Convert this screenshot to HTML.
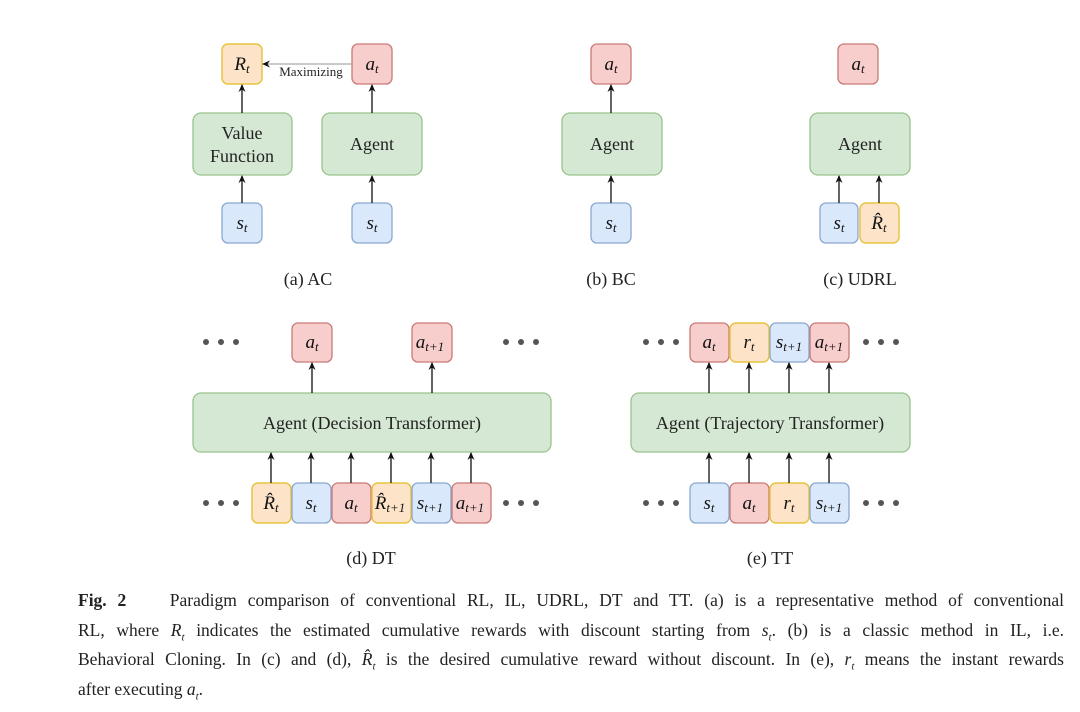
<!DOCTYPE html>
<html><head><meta charset="utf-8">
<style>
html,body{margin:0;padding:0;background:#fff;}
body{width:1080px;height:703px;position:relative;overflow:hidden;font-family:"Liberation Serif",serif;}
svg{position:absolute;left:0;top:0;}
.cap{position:absolute;left:78px;width:986px;font-size:17.5px;color:#222;line-height:29.5px;top:586px;}
.cap div{text-align:justify;text-align-last:justify;white-space:nowrap;height:29.5px;}
.cap div.last{text-align-last:left;}
i{font-style:italic;}
</style></head><body>
<svg width="1080" height="703" viewBox="0 0 1080 703" font-family="Liberation Serif, serif">
<defs>
<marker id="ah" markerWidth="8" markerHeight="8" refX="7" refY="4" orient="auto" markerUnits="userSpaceOnUse">
<path d="M0,0.5 L8,4 L0,7.5 L2.5,4 Z" fill="#111"/></marker>
<style>
.g{fill:#d5e8d4;stroke:#9ac38e;stroke-width:1.3}
.r{fill:#f8cecc;stroke:#c87a77;stroke-width:1.3}
.b{fill:#dae8fc;stroke:#8ba7cf;stroke-width:1.3}
.o{fill:#fde3c8;stroke:#e8c440;stroke-width:1.5}
.ar{stroke:#111;stroke-width:1.3;fill:none;marker-end:url(#ah)}
.m{font-style:italic;font-size:19px;fill:#111;text-anchor:middle}
.s{font-size:13px}
.t{font-size:18px;fill:#222;text-anchor:middle}
.d{fill:#555}
</style>
</defs>
<!-- (a) -->
<rect class="o" x="222" y="44" width="40" height="40" rx="6"/>
<text class="m" x="242" y="70">R<tspan class="s" dy="3">t</tspan></text>
<rect class="r" x="352" y="44" width="40" height="40" rx="6"/>
<text class="m" x="372" y="70">a<tspan class="s" dy="3">t</tspan></text>
<line x1="352" y1="64" x2="263" y2="64" stroke="#aaa" stroke-width="1.2" marker-end="url(#ah)"/>
<text x="311" y="76" font-size="13" fill="#222" text-anchor="middle">Maximizing</text>
<rect class="g" x="193" y="113" width="99" height="62" rx="8"/>
<text class="t" x="242" y="139">Value</text><text class="t" x="242" y="162">Function</text>
<rect class="g" x="322" y="113" width="100" height="62" rx="8"/>
<text class="t" x="372" y="150">Agent</text>
<rect class="b" x="222" y="203" width="40" height="40" rx="6"/>
<text class="m" x="242" y="229">s<tspan class="s" dy="3">t</tspan></text>
<rect class="b" x="352" y="203" width="40" height="40" rx="6"/>
<text class="m" x="372" y="229">s<tspan class="s" dy="3">t</tspan></text>
<line class="ar" x1="242" y1="113" x2="242" y2="85"/>
<line class="ar" x1="372" y1="113" x2="372" y2="85"/>
<line class="ar" x1="242" y1="203" x2="242" y2="176"/>
<line class="ar" x1="372" y1="203" x2="372" y2="176"/>
<text class="t" x="308" y="285">(a) AC</text>
<!-- (b) -->
<rect class="r" x="591" y="44" width="40" height="40" rx="6"/>
<text class="m" x="611" y="70">a<tspan class="s" dy="3">t</tspan></text>
<rect class="g" x="562" y="113" width="100" height="62" rx="8"/>
<text class="t" x="612" y="150">Agent</text>
<rect class="b" x="591" y="203" width="40" height="40" rx="6"/>
<text class="m" x="611" y="229">s<tspan class="s" dy="3">t</tspan></text>
<line class="ar" x1="611" y1="113" x2="611" y2="85"/>
<line class="ar" x1="611" y1="203" x2="611" y2="176"/>
<text class="t" x="611" y="285">(b) BC</text>
<!-- (c) -->
<rect class="r" x="838" y="44" width="40" height="40" rx="6"/>
<text class="m" x="858" y="70">a<tspan class="s" dy="3">t</tspan></text>
<rect class="g" x="810" y="113" width="100" height="62" rx="8"/>
<text class="t" x="860" y="150">Agent</text>
<rect class="b" x="820" y="203" width="38" height="40" rx="6"/>
<text class="m" x="839" y="229">s<tspan class="s" dy="3">t</tspan></text>
<rect class="o" x="860" y="203" width="39" height="40" rx="6"/>
<text class="m" x="879" y="229">R̂<tspan class="s" dy="3">t</tspan></text>
<line class="ar" x1="839" y1="203" x2="839" y2="176"/>
<line class="ar" x1="879" y1="203" x2="879" y2="176"/>
<text class="t" x="860" y="285">(c) UDRL</text>
<!-- (d) -->
<g class="d"><circle cx="206" cy="342" r="3"/><circle cx="221" cy="342" r="3"/><circle cx="236" cy="342" r="3"/>
<circle cx="506" cy="342" r="3"/><circle cx="521" cy="342" r="3"/><circle cx="536" cy="342" r="3"/>
<circle cx="206" cy="503" r="3"/><circle cx="221" cy="503" r="3"/><circle cx="236" cy="503" r="3"/>
<circle cx="506" cy="503" r="3"/><circle cx="521" cy="503" r="3"/><circle cx="536" cy="503" r="3"/></g>
<rect class="r" x="292" y="323" width="40" height="39" rx="6"/>
<text class="m" x="312" y="348">a<tspan class="s" dy="3">t</tspan></text>
<rect class="r" x="412" y="323" width="40" height="39" rx="6"/>
<text class="m" x="430" y="348">a<tspan class="s" dy="3">t+1</tspan></text>
<rect class="g" x="193" y="393" width="358" height="59" rx="8"/>
<text class="t" x="372" y="429">Agent (Decision Transformer)</text>
<line class="ar" x1="312" y1="393" x2="312" y2="363"/>
<line class="ar" x1="432" y1="393" x2="432" y2="363"/>
<rect class="o" x="252" y="483" width="39" height="40" rx="6"/>
<text class="m" x="271" y="509">R̂<tspan class="s" dy="3">t</tspan></text>
<rect class="b" x="292" y="483" width="39" height="40" rx="6"/>
<text class="m" x="311" y="509">s<tspan class="s" dy="3">t</tspan></text>
<rect class="r" x="332" y="483" width="39" height="40" rx="6"/>
<text class="m" x="351" y="509">a<tspan class="s" dy="3">t</tspan></text>
<rect class="o" x="372" y="483" width="39" height="40" rx="6"/>
<text class="m" x="390" y="509">R̂<tspan class="s" dy="3">t+1</tspan></text>
<rect class="b" x="412" y="483" width="39" height="40" rx="6"/>
<text class="m" x="430" y="509">s<tspan class="s" dy="3">t+1</tspan></text>
<rect class="r" x="452" y="483" width="39" height="40" rx="6"/>
<text class="m" x="470" y="509">a<tspan class="s" dy="3">t+1</tspan></text>
<line class="ar" x1="271" y1="483" x2="271" y2="453"/>
<line class="ar" x1="311" y1="483" x2="311" y2="453"/>
<line class="ar" x1="351" y1="483" x2="351" y2="453"/>
<line class="ar" x1="391" y1="483" x2="391" y2="453"/>
<line class="ar" x1="431" y1="483" x2="431" y2="453"/>
<line class="ar" x1="471" y1="483" x2="471" y2="453"/>
<text class="t" x="371" y="564">(d) DT</text>
<!-- (e) -->
<g class="d"><circle cx="646" cy="342" r="3"/><circle cx="661" cy="342" r="3"/><circle cx="676" cy="342" r="3"/>
<circle cx="866" cy="342" r="3"/><circle cx="881" cy="342" r="3"/><circle cx="896" cy="342" r="3"/>
<circle cx="646" cy="503" r="3"/><circle cx="661" cy="503" r="3"/><circle cx="676" cy="503" r="3"/>
<circle cx="866" cy="503" r="3"/><circle cx="881" cy="503" r="3"/><circle cx="896" cy="503" r="3"/></g>
<rect class="r" x="690" y="323" width="39" height="39" rx="6"/>
<text class="m" x="709" y="348">a<tspan class="s" dy="3">t</tspan></text>
<rect class="o" x="730" y="323" width="39" height="39" rx="6"/>
<text class="m" x="749" y="348">r<tspan class="s" dy="3">t</tspan></text>
<rect class="b" x="770" y="323" width="39" height="39" rx="6"/>
<text class="m" x="789" y="348">s<tspan class="s" dy="3">t+1</tspan></text>
<rect class="r" x="810" y="323" width="39" height="39" rx="6"/>
<text class="m" x="829" y="348">a<tspan class="s" dy="3">t+1</tspan></text>
<rect class="g" x="631" y="393" width="279" height="59" rx="8"/>
<text class="t" x="770" y="429">Agent (Trajectory Transformer)</text>
<line class="ar" x1="709" y1="393" x2="709" y2="363"/>
<line class="ar" x1="749" y1="393" x2="749" y2="363"/>
<line class="ar" x1="789" y1="393" x2="789" y2="363"/>
<line class="ar" x1="829" y1="393" x2="829" y2="363"/>
<rect class="b" x="690" y="483" width="39" height="40" rx="6"/>
<text class="m" x="709" y="509">s<tspan class="s" dy="3">t</tspan></text>
<rect class="r" x="730" y="483" width="39" height="40" rx="6"/>
<text class="m" x="749" y="509">a<tspan class="s" dy="3">t</tspan></text>
<rect class="o" x="770" y="483" width="39" height="40" rx="6"/>
<text class="m" x="789" y="509">r<tspan class="s" dy="3">t</tspan></text>
<rect class="b" x="810" y="483" width="39" height="40" rx="6"/>
<text class="m" x="829" y="509">s<tspan class="s" dy="3">t+1</tspan></text>
<line class="ar" x1="709" y1="483" x2="709" y2="453"/>
<line class="ar" x1="749" y1="483" x2="749" y2="453"/>
<line class="ar" x1="789" y1="483" x2="789" y2="453"/>
<line class="ar" x1="829" y1="483" x2="829" y2="453"/>
<text class="t" x="770" y="564">(e) TT</text>
</svg>
<div class="cap">
<div><b>Fig. 2</b>&nbsp;&nbsp;&nbsp; Paradigm comparison of conventional RL, IL, UDRL, DT and TT. (a) is a representative method of conventional</div>
<div>RL, where <i>R<sub style="font-size:11px">t</sub></i> indicates the estimated cumulative rewards with discount starting from <i>s<sub style="font-size:11px">t</sub></i>. (b) is a classic method in IL, i.e.</div>
<div>Behavioral Cloning. In (c) and (d), <i>R̂<sub style="font-size:11px">t</sub></i> is the desired cumulative reward without discount. In (e), <i>r<sub style="font-size:11px">t</sub></i> means the instant rewards</div>
<div class="last">after executing <i>a<sub style="font-size:11px">t</sub></i>.</div>
</div>
</body></html>
